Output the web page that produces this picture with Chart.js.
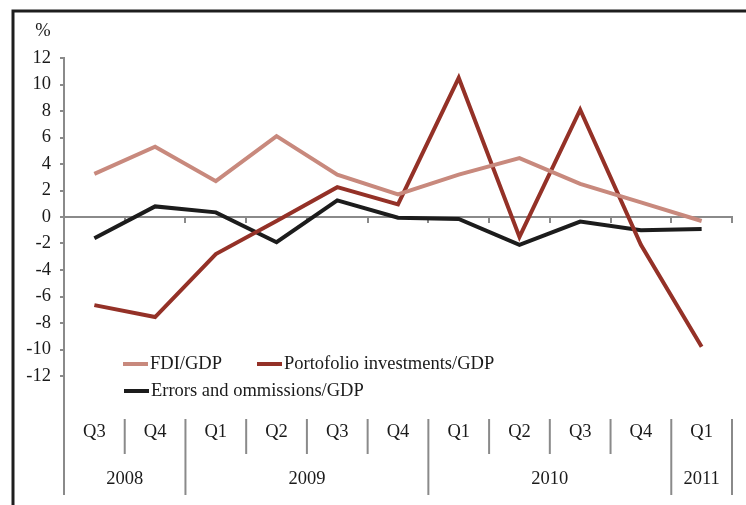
<!DOCTYPE html>
<html>
<head>
<meta charset="utf-8">
<script src="https://cdn.jsdelivr.net/npm/chart.js@4"></script>
<style>
  html, body { margin: 0; padding: 0; background: #fff; }
  #wrap { width: 746px; height: 505px; }
</style>
</head>
<body>
<div id="wrap"><canvas id="myChart" width="746" height="505"></canvas></div>
<script>
const quarters = ["Q3", "Q4", "Q1", "Q2", "Q3", "Q4", "Q1", "Q2", "Q3", "Q4", "Q1"];
const years = ["2008", "2009", "2010", "2011"];
const yearSpans = [2, 4, 4, 1];
const fdiValues = [3.25, 5.3, 2.7, 6.1, 3.2, 1.7, 3.2, 4.45, 2.5, 1.1, -0.3];
const portfolioValues = [-6.65, -7.55, -2.8, -0.3, 2.25, 0.95, 10.5, -1.5, 8.1, -2.1, -9.8];
const errorsValues = [-1.6, 0.8, 0.35, -1.9, 1.25, -0.05, -0.15, -2.1, -0.35, -1.0, -0.9];
const yTicks = [-12, -10, -8, -6, -4, -2, 0, 2, 4, 6, 8, 10, 12];

const FONT = '18.5px "Liberation Serif", "Times New Roman", serif';
const TEXT = "#1a1a1a";
const AXIS = "#8a8a8a";

const ctx = document.getElementById("myChart");

// frame, % label, two-level category axis and legend
const decorations = {
  id: "decorations",
  beforeDraw(chart) {
    const c = chart.ctx;
    c.save();
    c.strokeStyle = "#1e1e1e";
    c.lineWidth = 3;
    c.beginPath();
    c.moveTo(13, 505);
    c.lineTo(13, 11);
    c.lineTo(746, 11);
    c.stroke();
    c.fillStyle = TEXT;
    c.font = FONT;
    c.textAlign = "center";
    c.textBaseline = "middle";
    c.fillText("%", 43, 31);
    c.restore();
  },
  afterDraw(chart) {
    const c = chart.ctx;
    const x = chart.scales.x;
    const area = chart.chartArea;
    const sepTop = 419, qBottom = 454, yBottom = 495;
    c.save();
    c.strokeStyle = AXIS;
    c.lineWidth = 2;
    // y axis runs on down through the category block
    c.beginPath();
    c.moveTo(x.getPixelForValue(-0.5), area.bottom);
    c.lineTo(x.getPixelForValue(-0.5), yBottom);
    c.stroke();
    const yearEdges = [0];
    yearSpans.forEach((s, i) => yearEdges.push(yearEdges[i] + s));
    for (let i = 1; i <= quarters.length; i++) {
      const px = x.getPixelForValue(i - 0.5);
      const isYear = yearEdges.includes(i);
      c.beginPath();
      c.moveTo(px, sepTop);
      c.lineTo(px, isYear ? yBottom : qBottom);
      c.stroke();
    }
    c.fillStyle = TEXT;
    c.font = FONT;
    c.textAlign = "center";
    c.textBaseline = "middle";
    quarters.forEach((q, i) => c.fillText(q, x.getPixelForValue(i), 432));
    years.forEach((y, i) => {
      const mid = (x.getPixelForValue(yearEdges[i] - 0.5) + x.getPixelForValue(yearEdges[i + 1] - 0.5)) / 2;
      c.fillText(y, mid, 479);
    });

    // legend
    const ds = chart.data.datasets;
    const items = [
      { d: ds[0], x: 123, y: 364 },
      { d: ds[1], x: 257, y: 364 },
      { d: ds[2], x: 124, y: 391 },
    ];
    c.textAlign = "left";
    items.forEach((it) => {
      c.strokeStyle = it.d.borderColor;
      c.lineWidth = 4;
      c.beginPath();
      c.moveTo(it.x, it.y);
      c.lineTo(it.x + 25, it.y);
      c.stroke();
      c.fillStyle = TEXT;
      c.fillText(it.d.label, it.x + 27, it.y);
    });
    c.restore();
  },
};

new Chart(ctx, {
  type: "line",
  data: {
    labels: quarters,
    datasets: [
      {
        label: "FDI/GDP",
        data: fdiValues,
        borderColor: "#c8897d",
        borderWidth: 4,
        pointRadius: 0,
      },
      {
        label: "Portofolio investments/GDP",
        data: portfolioValues,
        borderColor: "#943127",
        borderWidth: 4,
        pointRadius: 0,
      },
      {
        label: "Errors and ommissions/GDP",
        data: errorsValues,
        borderColor: "#1c1c1c",
        borderWidth: 4,
        pointRadius: 0,
      },
    ],
  },
  options: {
    responsive: false,
    animation: false,
    layout: {
      padding: { top: 58, left: 0, right: 14, bottom: 129 },
    },
    plugins: {
      legend: { display: false },
      tooltip: { enabled: false },
    },
    scales: {
      x: {
        position: { y: 0 },
        offset: true,
        grid: {
          drawOnChartArea: false,
          drawTicks: true,
          tickLength: 5,
          color: AXIS,
          lineWidth: 2,
          offset: true,
        },
        border: { color: AXIS, width: 2 },
        ticks: { display: false },
      },
      y: {
        position: "left",
        min: -12,
        max: 12,
        afterBuildTicks: (s) => {
          s.ticks = yTicks.map((v) => ({ value: v }));
        },
        afterFit: (s) => {
          s.width = 64;
        },
        grid: {
          drawOnChartArea: false,
          drawTicks: true,
          tickLength: 4,
          color: AXIS,
          lineWidth: 2,
        },
        border: { color: AXIS, width: 2 },
        ticks: {
          padding: 9,
          color: TEXT,
          font: { family: '"Liberation Serif", "Times New Roman", serif', size: 18.5 },
        },
      },
    },
  },
  plugins: [decorations],
});
</script>
</body>
</html>
